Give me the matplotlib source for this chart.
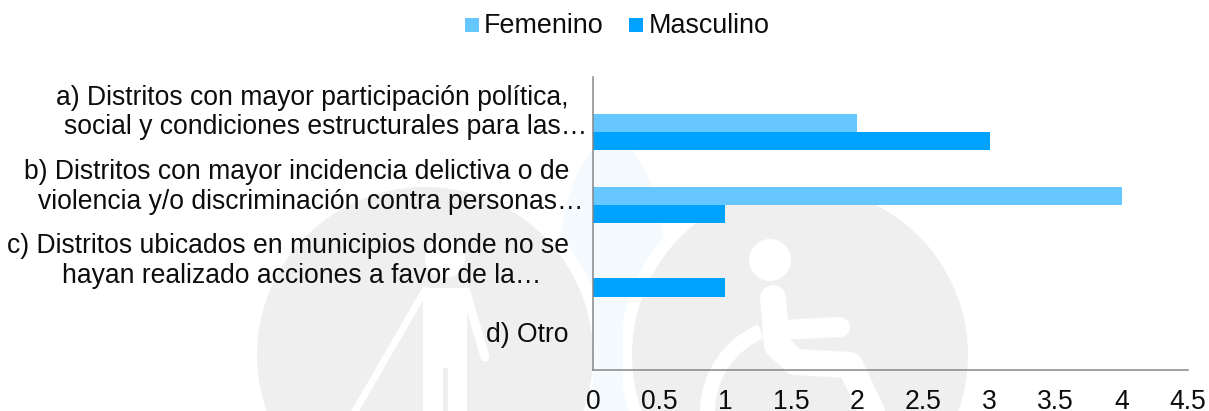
import matplotlib
matplotlib.use('Agg')
import matplotlib.pyplot as plt
from matplotlib.patches import Circle, Ellipse, Rectangle, Wedge
import numpy as np

plt.rcParams['font.family'] = ['Liberation Sans', 'DejaVu Sans']

W, H = 1209, 411

# datos
categorias = ['a)', 'b)', 'c)', 'd)']
femenino = [2, 4, 0, 0]
masculino = [3, 1, 1, 0]
ticks_x = [0, 0.5, 1, 1.5, 2, 2.5, 3, 3.5, 4, 4.5]
tick_labels_x = ['0', '0.5', '1', '1.5', '2', '2.5', '3', '3.5', '4', '4.5']

# cada etiqueta: lineas y borde derecho en pixeles
lineas_a = ['a) Distritos con mayor participación política,', 'social y condiciones estructurales para las…']
lineas_b = ['b) Distritos con mayor incidencia delictiva o de', 'violencia y/o discriminación contra personas…']
lineas_c = ['c) Distritos ubicados en municipios donde no se', 'hayan realizado acciones a favor de la…']
lineas_d = ['d) Otro']
bordes = [(569, 587), (569, 583), (569, 541), (569,)]
filas = [(98, 127), (172, 202), (246, 276), (335,)]

C_FEM = '#66c6ff'
C_MAS = '#00a2ff'
C_EJE = '#868686'
C_TXT = '#0d0d0d'
GRIS = '#efefef'
PALIDO = '#f4fafe'
TAM = 19.1

fig = plt.figure(figsize=(W / 100, H / 100), dpi=100, facecolor='white')

# marca de agua de fondo
bg = fig.add_axes([0, 0, 1, 1], zorder=0)
bg.set_xlim(0, W)
bg.set_ylim(H, 0)
bg.axis('off')


def trazo(xs, ys, ancho, color='white'):
    # ancho en pixeles
    bg.plot(xs, ys, color=color, lw=ancho * 0.72, solid_capstyle='round', solid_joinstyle='round')


bg.add_patch(Ellipse((612, 290), 110, 300, color=PALIDO, lw=0))
for cx in (425, 800):
    bg.add_patch(Circle((cx, 355), 180, color='white', lw=0))
bg.add_patch(Rectangle((593, 300), 30, 111, color=PALIDO, lw=0))
bg.add_patch(Circle((425, 355), 168, color=GRIS, lw=0))
bg.add_patch(Circle((800, 355), 168, color=GRIS, lw=0))

# persona con baston
bg.add_patch(Circle((445, 258), 20, color='white', lw=0))
bg.add_patch(Rectangle((423, 288), 44, 123, color='white', lw=0))
bg.add_patch(Rectangle((443, 368), 5, 43, color=GRIS, lw=0))
trazo([425, 350], [290, 420], 7)
trazo([466, 485], [292, 357], 9)

# silla de ruedas
bg.add_patch(Circle((770, 260), 21, color='white', lw=0))
bg.add_patch(Wedge((795, 412), 95, 180, 247, width=15, color='white', lw=0))
trazo([773, 777, 795, 850, 878], [298, 345, 362, 365, 425], 26)
trazo([780, 840], [330, 327], 20)

# ejes: 0 en x=593, 4.5 en x=1188, de y=77 a y=370
ax = fig.add_axes([593 / W, 1 - 370 / H, (1188 - 593) / W, (370 - 77) / H], zorder=1)
ax.patch.set_alpha(0)
ax.set_xlim(0, 4.5)
ax.set_ylim(3.5, -0.5)

y = np.arange(len(categorias))
alto = 18.3 / 73.25
ax.barh(y + alto / 2, femenino, height=alto, color=C_FEM)
ax.barh(y + alto * 3 / 2, masculino, height=alto, color=C_MAS)

ax.set_xticks(ticks_x)
ax.set_xticklabels(tick_labels_x, fontsize=TAM, color=C_TXT)
ax.set_yticks([])
ax.tick_params(axis='x', length=0, pad=14)
for s in ['top', 'right']:
    ax.spines[s].set_visible(False)
for s in ['left', 'bottom']:
    ax.spines[s].set_color(C_EJE)
    ax.spines[s].set_linewidth(1.1)

for lineas, xs, ys in zip([lineas_a, lineas_b, lineas_c, lineas_d], bordes, filas):
    for t, xp, yp in zip(lineas, xs, ys):
        bg.text(xp, yp, t, ha='right', va='center', fontsize=TAM, color=C_TXT)

# leyenda
bg.add_patch(Rectangle((465, 18), 14, 14, color=C_FEM, lw=0))
bg.add_patch(Rectangle((629, 18), 14, 14, color=C_MAS, lw=0))
bg.text(484, 26, 'Femenino', ha='left', va='center', fontsize=19.4, color=C_TXT)
bg.text(649, 26, 'Masculino', ha='left', va='center', fontsize=19.4, color=C_TXT)

fig.savefig('out.png', dpi=100)
